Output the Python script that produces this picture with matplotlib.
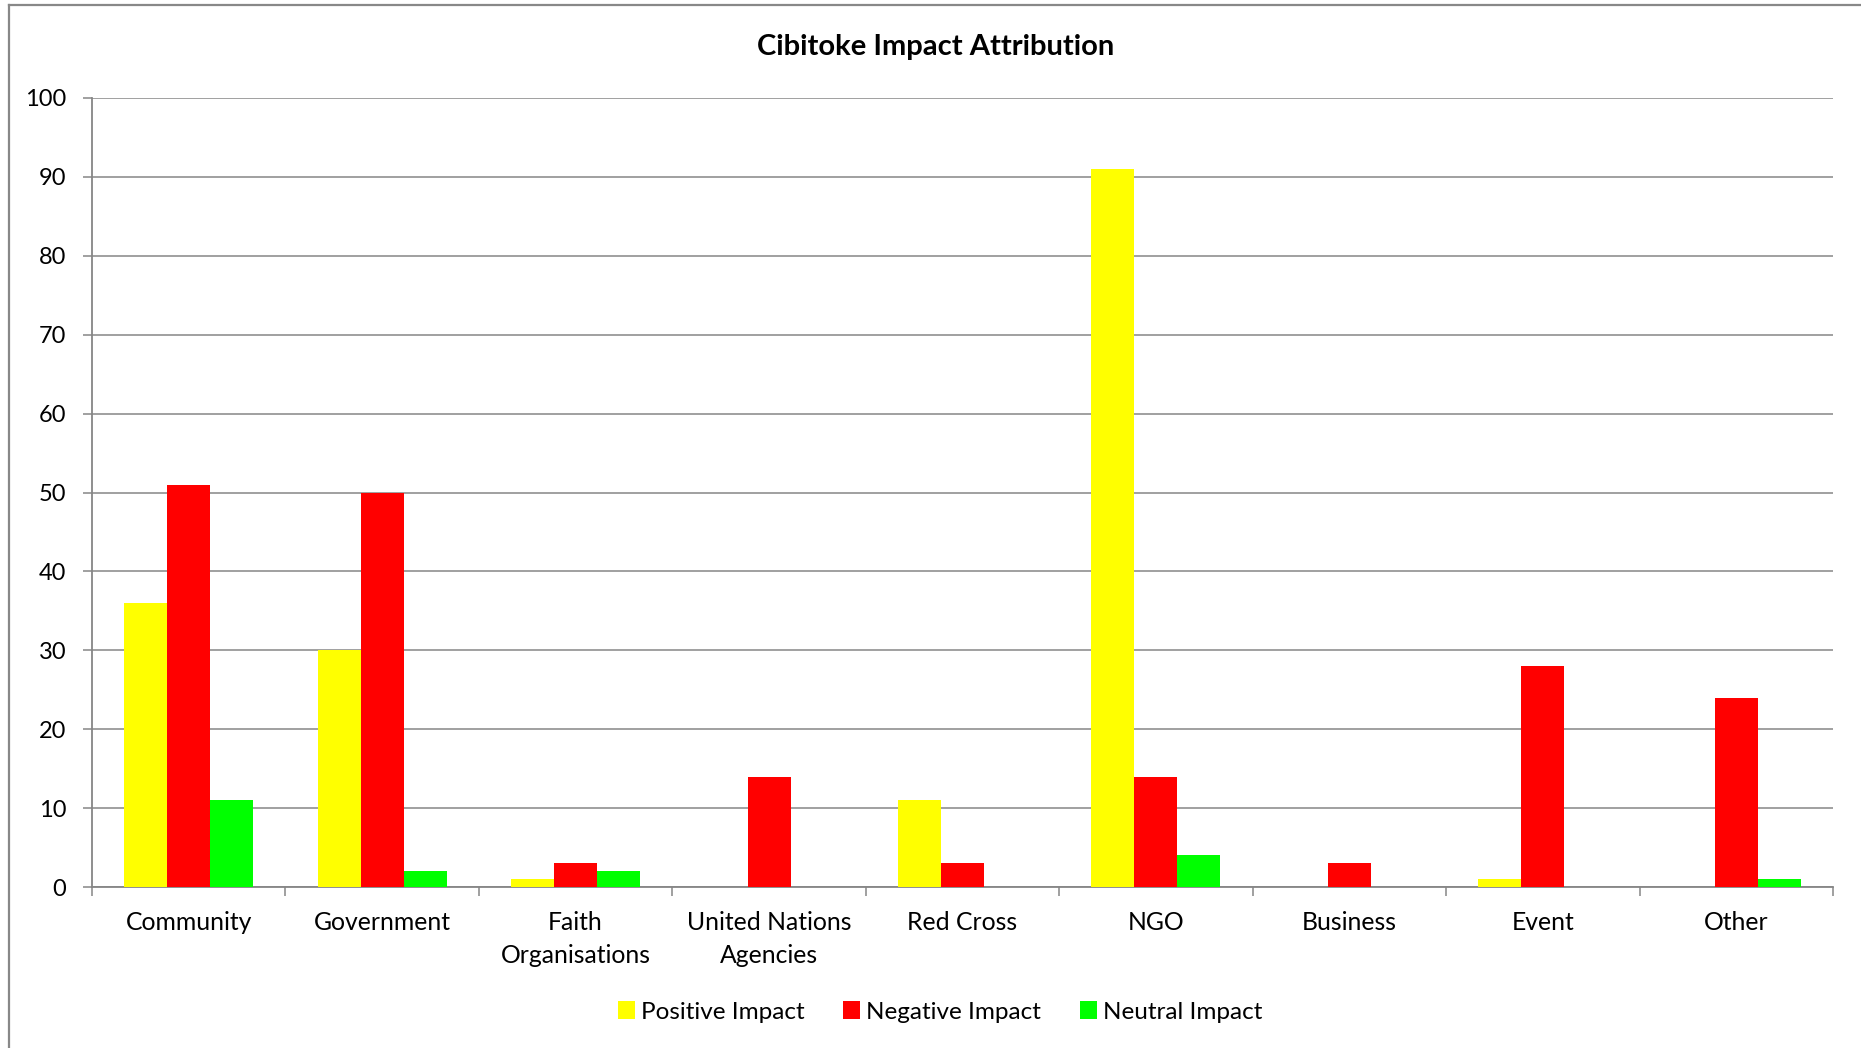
import matplotlib
matplotlib.use("Agg")
import matplotlib.pyplot as plt
from matplotlib.lines import Line2D
from matplotlib.patches import Patch
import numpy as np

categories = ["Community", "Government", "Faith\nOrganisations", "United Nations\nAgencies",
              "Red Cross", "NGO", "Business", "Event", "Other"]
positive = [36, 30, 1, 0, 11, 91, 0, 1, 0]
negative = [51, 50, 3, 14, 3, 14, 3, 28, 24]
neutral = [11, 2, 2, 0, 0, 4, 0, 0, 1]
series_names = ["Positive Impact", "Negative Impact", "Neutral Impact"]
series_colors = ["#FFFF00", "#FF0000", "#00FF00"]
y_ticks = [0, 10, 20, 30, 40, 50, 60, 70, 80, 90, 100]

plt.rcParams["font.family"] = ["Lato", "DejaVu Sans"]
GRID = "#868686"

W, H = 1861, 1048
fig = plt.figure(figsize=(W / 100, H / 100), dpi=100)
ax = fig.add_axes([92 / W, 1 - 887 / H, (1833 - 92) / W, (887 - 98) / H])

n = len(categories)
x = np.arange(n)
bw = 1 / 4.5
for i, (vals, col) in enumerate(zip([positive, negative, neutral], series_colors)):
    ax.bar(x + (i - 1) * bw, vals, width=bw, color=col, edgecolor="none", zorder=3)

ax.set_xlim(-0.5, n - 0.5)
ax.set_ylim(0, 100)
ax.set_yticks(y_ticks)
ax.yaxis.grid(True, color=GRID, linewidth=1.1, zorder=0)
ax.tick_params(axis="y", length=6.5, width=1.1, color=GRID, pad=12, labelsize=17)

ax.set_xticks(x)
ax.set_xticklabels(categories, fontsize=17.8, linespacing=1.55)
ax.set_xticks(np.arange(n + 1) - 0.5, minor=True)
ax.tick_params(axis="x", which="major", length=0, pad=17)
ax.tick_params(axis="x", which="minor", length=6.5, width=1.1, color=GRID)

for side in ["top", "right"]:
    ax.spines[side].set_visible(False)
for side in ["left", "bottom"]:
    ax.spines[side].set_color(GRID)
    ax.spines[side].set_linewidth(1.3)

fig.text(936 / W, 1 - 47 / H, "Cibitoke Impact Attribution", ha="center", va="center",
         fontsize=21, fontweight="bold")

handles = [Patch(facecolor=c, edgecolor="none") for c in series_colors]
fig.legend(handles, series_names, loc="center", bbox_to_anchor=(940 / W, 1 - 1012 / H),
           ncol=3, frameon=False, fontsize=17.5, handlelength=0.7, handleheight=0.7,
           handletextpad=0.25, columnspacing=1.6)

# outer chart frame (left and top edges)
fig.add_artist(Line2D([9 / W, 9 / W], [0, 1 - 5 / H], color="#888888", linewidth=1.6))
fig.add_artist(Line2D([9 / W, 1], [1 - 5 / H, 1 - 5 / H], color="#888888", linewidth=1.6))

fig.savefig("out.png", dpi=100)
